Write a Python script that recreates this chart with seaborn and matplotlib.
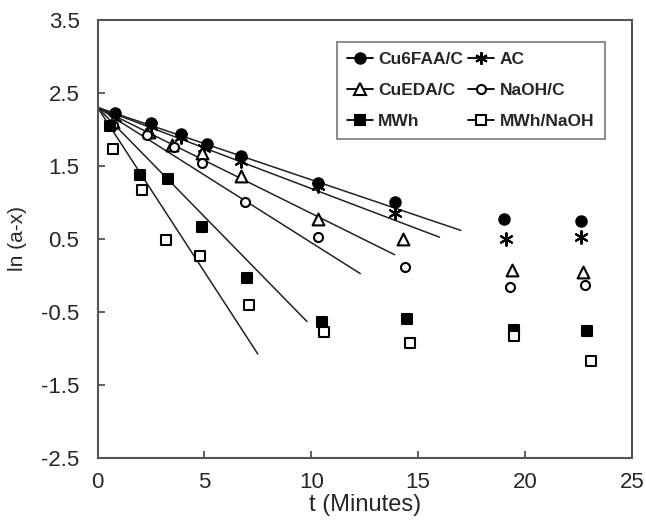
import matplotlib
matplotlib.use("Agg")
import matplotlib.pyplot as plt
from matplotlib.lines import Line2D
import seaborn as sns
import pandas as pd

# series
names = ["Cu6FAA/C", "AC", "CuEDA/C", "NaOH/C", "MWh", "MWh/NaOH"]

t_cu6faa = [0.8, 2.5, 3.9, 5.1, 6.7, 10.3, 13.9, 19.0, 22.6]
y_cu6faa = [2.22, 2.09, 1.93, 1.80, 1.63, 1.27, 1.00, 0.77, 0.74]
t_ac = [0.8, 2.5, 3.9, 5.0, 6.7, 10.3, 13.9, 19.1, 22.6]
y_ac = [2.16, 2.04, 1.89, 1.74, 1.56, 1.22, 0.85, 0.50, 0.53]
t_cueda = [0.7, 2.4, 3.5, 4.9, 6.7, 10.3, 14.3, 19.4, 22.7]
y_cueda = [2.10, 1.97, 1.79, 1.67, 1.36, 0.77, 0.50, 0.08, 0.05]
t_naoh = [0.7, 2.3, 3.6, 4.9, 6.9, 10.3, 14.4, 19.3, 22.8]
y_naoh = [2.06, 1.92, 1.76, 1.54, 1.00, 0.52, 0.12, -0.16, -0.13]
t_mwh = [0.6, 2.0, 3.3, 4.9, 7.0, 10.5, 14.5, 19.5, 22.9]
y_mwh = [2.04, 1.38, 1.32, 0.66, -0.03, -0.64, -0.60, -0.75, -0.76]
t_mwhnaoh = [0.7, 2.1, 3.2, 4.8, 7.1, 10.6, 14.6, 19.5, 23.1]
y_mwhnaoh = [1.73, 1.17, 0.49, 0.27, -0.40, -0.77, -0.93, -0.83, -1.17]

# fitted first-order lines: ln(a-x) = intercept + slope * t, drawn up to t_end
fit_intercept = [2.3, 2.3, 2.3, 2.3, 2.3, 2.3]
fit_slope = [-0.099, -0.111, -0.145, -0.185, -0.299, -0.45]
fit_end = [17.0, 16.0, 13.9, 12.3, 9.8, 7.5]

ts = [t_cu6faa, t_ac, t_cueda, t_naoh, t_mwh, t_mwhnaoh]
ys = [y_cu6faa, y_ac, y_cueda, y_naoh, y_mwh, y_mwhnaoh]

markers = {"Cu6FAA/C": "o", "AC": (6, 2, 0), "CuEDA/C": "^", "NaOH/C": "o",
           "MWh": "s", "MWh/NaOH": "s"}
faces = {"Cu6FAA/C": "black", "AC": "black", "CuEDA/C": "white", "NaOH/C": "white",
         "MWh": "black", "MWh/NaOH": "white"}
sizes = {"Cu6FAA/C": 7.5, "AC": 9, "CuEDA/C": 8.5, "NaOH/C": 6.5,
         "MWh": 6.5, "MWh/NaOH": 6.5}

pts = pd.concat([pd.DataFrame({"t": t, "y": y, "s": n}) for t, y, n in zip(ts, ys, names)])
lines = pd.concat([pd.DataFrame({"t": [0, e], "y": [b, b + m * e], "s": n})
                   for b, m, e, n in zip(fit_intercept, fit_slope, fit_end, names)])

sns.set_style("white")
plt.rcParams["font.family"] = ["Liberation Sans", "DejaVu Sans"]

fig = plt.figure(figsize=(6.46, 5.2), dpi=100)
ax = fig.add_axes([0.151, 0.119, 0.827, 0.843])

for n in names:
    d = lines[lines.s == n]
    sns.lineplot(data=d, x="t", y="y", color="#222222", lw=1.1, ax=ax, legend=False)
for n in names:
    d = pts[pts.s == n]
    sns.scatterplot(data=d, x="t", y="y", marker=markers[n], s=sizes[n] ** 2,
                    facecolor=faces[n], edgecolor="black", linewidth=1.5, ax=ax,
                    legend=False, zorder=3)

ax.set_xlim(0, 25)
ax.set_ylim(-2.5, 3.5)
ax.set_xticks([0, 5, 10, 15, 20, 25])
ax.set_yticks([-2.5, -1.5, -0.5, 0.5, 1.5, 2.5, 3.5])
ax.set_yticklabels(["-2.5", "-1.5", "-0.5", "0.5", "1.5", "2.5", "3.5"])
ax.tick_params(direction="in", length=5, width=1.2, labelsize=16,
               color="#444444", left=True, bottom=True)
ax.tick_params(axis="y", pad=13)
ax.tick_params(axis="x", pad=10)
for sp in ax.spines.values():
    sp.set_color("#555555")
    sp.set_linewidth(1.5)
ax.set_xlabel("t (Minutes)", fontsize=17, labelpad=1)
ax.set_ylabel("ln (a-x)", fontsize=15, labelpad=10)

order = ["Cu6FAA/C", "CuEDA/C", "MWh", "AC", "NaOH/C", "MWh/NaOH"]
handles = [Line2D([], [], color="black", lw=1.3, marker=markers[n], markersize=sizes[n],
                  markerfacecolor=faces[n], markeredgecolor="black", markeredgewidth=1.5)
           for n in order]
leg = ax.legend(handles, order, ncol=2, loc="upper right", bbox_to_anchor=(0.949, 0.95),
                frameon=True, fancybox=False, handlelength=1.5, columnspacing=0.3,
                handletextpad=0.3, labelspacing=0.9, borderpad=0.6, borderaxespad=0,
                prop={"family": ["Liberation Sans Narrow", "Liberation Sans"],
                      "weight": "bold", "size": 12.5})
leg.get_frame().set_edgecolor("#555555")
leg.get_frame().set_linewidth(1.2)

fig.savefig("out.png", dpi=100)
